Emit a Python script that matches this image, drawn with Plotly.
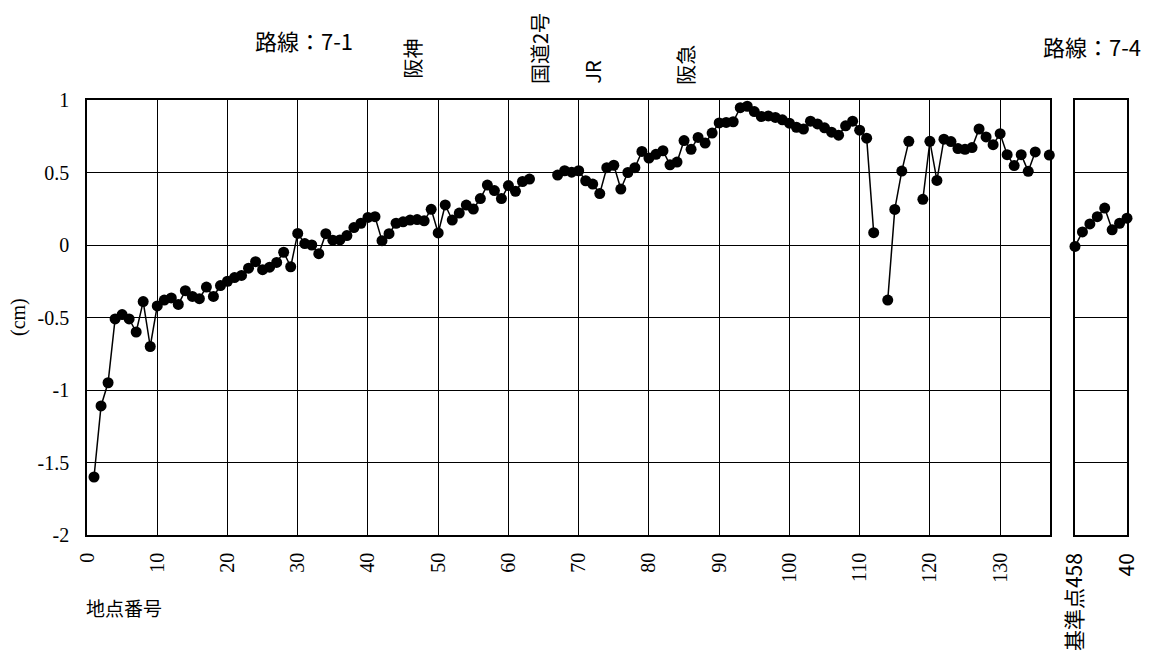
import plotly.graph_objects as go

W, H = 1157, 672

# Route 7-1: survey point number and displacement (cm); None = no reading
route71_points = list(range(1, 138))
route71_values = [
    -1.60, -1.11, -0.95, -0.51, -0.48, -0.51, -0.60, -0.39, -0.70, -0.42,
    -0.38, -0.365, -0.41, -0.315, -0.355, -0.37, -0.29, -0.355, -0.28, -0.25,
    -0.225, -0.21, -0.16, -0.115, -0.17, -0.153, -0.12, -0.05, -0.15, 0.08,
    0.01, 0.0, -0.06, 0.078, 0.033, 0.035, 0.065, 0.12, 0.15, 0.19,
    0.195, 0.03, 0.078, 0.15, 0.16, 0.172, 0.175, 0.167, 0.246, 0.083,
    0.276, 0.172, 0.22, 0.275, 0.248, 0.32, 0.413, 0.375, 0.32, 0.41,
    0.37, 0.438, 0.455, None, None, None, 0.482, 0.512, 0.502, 0.512,
    0.443, 0.42, 0.355, 0.533, 0.55, 0.386, 0.50, 0.533, 0.645, 0.60,
    0.625, 0.65, 0.553, 0.572, 0.72, 0.66, 0.742, 0.703, 0.772, 0.842,
    0.845, 0.85, 0.947, 0.957, 0.92, 0.886, 0.89, 0.88, 0.863, 0.84,
    0.812, 0.80, 0.854, 0.835, 0.808, 0.778, 0.757, 0.822, 0.854, 0.792,
    0.737, 0.085, None, -0.38, 0.245, 0.51, 0.715, None, 0.315, 0.715,
    0.445, 0.73, 0.713, 0.665, 0.66, 0.672, 0.80, 0.745, 0.692, 0.768,
    0.623, 0.548, 0.623, 0.508, 0.642, None, 0.62,
]

# Route 7-4: starts at benchmark 458
route74_points = [33, 34, 35, 36, 37, 38, 39, 40]
route74_values = [-0.01, 0.09, 0.145, 0.195, 0.255, 0.105, 0.15, 0.185]
route74_tick_vals = [33, 40]
route74_tick_text = ["基準点458", "40"]

x_tick_vals = list(range(0, 140, 10))
y_tick_vals = [1, 0.5, 0, -0.5, -1, -1.5, -2]
y_tick_text = ["1", "0.5", "0", "-0.5", "-1", "-1.5", "-2"]

# Crossings along route 7-1 (by point number)
landmark_names = ["阪神", "国道2号", "JR", "阪急"]
landmark_points = [46.2, 64.5, 72.0, 85.1]

SERIF = "Liberation Serif"
JP = "Noto Sans CJK JP"


def px_x(p):
    return p / W


def px_y(p):
    return 1 - p / H


fig = go.Figure()

fig.add_trace(go.Scatter(
    x=route71_points, y=route71_values, mode="lines+markers",
    line=dict(color="black", width=1.5),
    marker=dict(color="black", size=11),
    connectgaps=False, cliponaxis=False, showlegend=False,
    xaxis="x", yaxis="y",
))
fig.add_trace(go.Scatter(
    x=route74_points, y=route74_values, mode="lines+markers",
    line=dict(color="black", width=1.5),
    marker=dict(color="black", size=11),
    cliponaxis=False, showlegend=False,
    xaxis="x2", yaxis="y2",
))

y_domain = [px_y(535), px_y(100)]
axis_common = dict(
    showline=True, linecolor="black", linewidth=1.5, mirror=True,
    zeroline=False, gridcolor="black", gridwidth=1, ticks="",
)

fig.update_layout(
    width=W, height=H,
    margin=dict(l=0, r=0, t=0, b=0),
    paper_bgcolor="white", plot_bgcolor="white",
    showlegend=False,
    font=dict(family=SERIF),
    xaxis=dict(
        domain=[px_x(87), px_x(1050)], range=[0, 137.1],
        tickmode="array", tickvals=x_tick_vals, tickangle=-90,
        tickfont=dict(family=SERIF, size=20, color="black"),
        ticklabelstandoff=8, showgrid=True, automargin=False,
        anchor="y", **axis_common,
    ),
    yaxis=dict(
        domain=y_domain, range=[-2, 1],
        tickmode="array", tickvals=y_tick_vals, ticktext=y_tick_text,
        tickfont=dict(family=SERIF, size=20, color="black"),
        ticklabelstandoff=12, showgrid=True, automargin=False,
        anchor="x", **axis_common,
    ),
    xaxis2=dict(
        domain=[px_x(1075), px_x(1127)], range=[33, 40],
        tickmode="array", tickvals=route74_tick_vals, ticktext=route74_tick_text,
        tickangle=-90, tickfont=dict(family=JP, size=21, color="black"),
        ticklabelstandoff=8, showgrid=False, automargin=False,
        anchor="y2", **axis_common,
    ),
    yaxis2=dict(
        domain=y_domain, range=[-2, 1],
        tickmode="array", tickvals=y_tick_vals, showticklabels=False,
        showgrid=True, automargin=False,
        anchor="x2", **axis_common,
    ),
)

annotations = [
    dict(text="路線：7-1", x=px_x(304), y=px_y(40), xref="paper", yref="paper",
         xanchor="center", yanchor="middle", showarrow=False,
         font=dict(family=JP, size=22, color="black")),
    dict(text="路線：7-4", x=px_x(1092), y=px_y(46), xref="paper", yref="paper",
         xanchor="center", yanchor="middle", showarrow=False,
         font=dict(family=JP, size=22, color="black")),
    dict(text="(cm)", x=px_x(18), y=px_y(317), xref="paper", yref="paper",
         xanchor="center", yanchor="middle", textangle=-90, showarrow=False,
         font=dict(family=SERIF, size=20, color="black")),
    dict(text="地点番号", x=px_x(124), y=px_y(607), xref="paper", yref="paper",
         xanchor="center", yanchor="middle", showarrow=False,
         font=dict(family=JP, size=19, color="black")),
]
# vertical crossing labels, centred at these heights (px from top)
landmark_centres = [59, 49, 72, 65]
for name, pos, cy in zip(landmark_names, landmark_points, landmark_centres):
    annotations.append(dict(
        text=name, x=pos, xref="x", y=px_y(cy), yref="paper",
        xanchor="center", yanchor="middle", textangle=-90, showarrow=False,
        font=dict(family=JP, size=20, color="black"),
    ))
fig.update_layout(annotations=annotations)

fig.write_html("out.html")
